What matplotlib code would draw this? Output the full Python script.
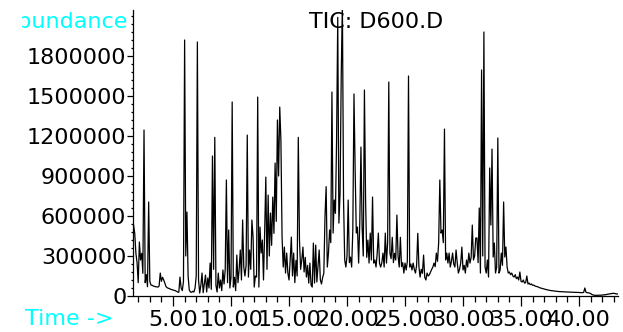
import numpy as np
import matplotlib.pyplot as plt
from matplotlib.ticker import MultipleLocator, FixedLocator
from matplotlib.transforms import Bbox, TransformedBbox

# retention time grid (min), one scan every 0.1 min
rt = np.round(np.arange(1.6, 43.45, 0.1), 1)

# total ion current, thousands of counts, one row per minute
tic_k = [
    530, 470, 320, 250,
    100, 405, 270, 320, 170, 1245, 100, 160, 70, 705,
    110, 82, 80, 75, 72, 70, 68, 67, 75, 172,
    110, 140, 120, 95, 70, 62, 58, 55, 50, 48,
    45, 42, 40, 35, 30, 28, 142, 60, 40, 110,
    1920, 300, 630, 150, 45, 30, 28, 35, 30, 60,
    150, 1905, 120, 22, 80, 172, 25, 90, 157, 30,
    135, 60, 247, 50, 1050, 200, 1190, 80, 30, 172,
    60, 120, 40, 195, 90, 200, 870, 100, 495, 60,
    140, 1455, 67, 140, 40, 307, 100, 200, 345, 120,
    570, 217, 150, 230, 1207, 142, 345, 200, 570, 442,
    67, 150, 142, 1492, 67, 517, 322, 420, 120, 480,
    892, 200, 757, 300, 622, 380, 742, 470, 997, 560,
    1320, 900, 1417, 1170, 442, 217, 367, 172, 322, 172,
    120, 270, 442, 150, 322, 100, 267, 150, 1190, 420,
    200, 270, 367, 180, 290, 142, 230, 97, 247, 82,
    67, 397, 97, 382, 105, 230, 345, 120, 90, 140,
    170, 592, 820, 217, 322, 495, 400, 1530, 472, 720,
    620, 1170, 2090, 547, 772, 1650, 2200, 720, 270, 217,
    300, 720, 250, 292, 217, 495, 1515, 945, 472, 517,
    247, 547, 1117, 517, 300, 1545, 720, 290, 420, 247,
    472, 270, 742, 247, 270, 217, 320, 472, 247, 217,
    250, 322, 217, 472, 247, 400, 1605, 320, 280, 440,
    250, 320, 270, 607, 300, 217, 440, 220, 250, 172,
    247, 195, 260, 1650, 217, 240, 195, 247, 200, 172,
    230, 470, 217, 142, 200, 170, 307, 140, 120, 172,
    150, 160, 180, 200, 217, 247, 220, 322, 260, 400,
    870, 472, 495, 400, 1252, 270, 322, 247, 322, 217,
    260, 322, 240, 217, 345, 250, 172, 200, 247, 367,
    195, 230, 172, 270, 217, 322, 247, 290, 532, 270,
    300, 435, 435, 250, 660, 172, 1695, 300, 1980, 217,
    172, 270, 142, 960, 532, 1102, 292, 397, 172, 217,
    1185, 172, 195, 322, 230, 705, 292, 367, 217, 172,
    180, 160, 172, 150, 142, 160, 130, 142, 120, 180,
    110, 105, 120, 97, 100, 150, 90, 97, 85, 90,
    80, 82, 75, 72, 70, 67, 62, 60, 57, 55,
    52, 50, 48, 45, 44, 42, 40, 40, 38, 37,
    36, 35, 34, 33, 33, 32, 32, 31, 31, 30,
    30, 30, 29, 29, 28, 28, 28, 27, 27, 27,
    26, 26, 25, 25, 27, 60, 28, 25, 24, 22,
    18, 12, 8, 6, 5, 5, 5, 6, 6, 6,
    7, 8, 9, 10, 12, 14, 15, 17, 18, 20,
    20, 18, 16, 15, 15,
]
abundance = np.array(tic_k) * 1000

x_ticks = [5, 10, 15, 20, 25, 30, 35, 40]
x_labels = ['5.00', '10.00', '15.00', '20.00', '25.00', '30.00', '35.00', '40.00']
y_ticks = [0, 300000, 600000, 900000, 1200000, 1500000, 1800000]

W, H = 623, 332
fig = plt.figure(figsize=(W / 100, H / 100), dpi=100)
ax = fig.add_axes([133 / W, 36 / H, 485 / W, 286 / H])

ax.plot(rt, abundance, color='black', lw=0.9)

ax.set_xlim(1.55, 43.36)
ax.set_ylim(0, 2145000)
ax.xaxis.set_major_locator(FixedLocator(x_ticks))
ax.set_xticklabels(x_labels)
ax.xaxis.set_minor_locator(MultipleLocator(1))
ax.yaxis.set_major_locator(FixedLocator(y_ticks))
ax.set_yticklabels([str(v) for v in y_ticks])
ax.yaxis.set_minor_locator(MultipleLocator(60000))

for s in ['top', 'right']:
    ax.spines[s].set_visible(False)
for s in ['left', 'bottom']:
    ax.spines[s].set_linewidth(0.9)

ax.tick_params(axis='x', which='major', length=7, width=0.9, pad=3, labelsize=16)
ax.tick_params(axis='x', which='minor', length=4.3, width=0.9)
ax.tick_params(axis='y', which='major', length=4, width=0.9, pad=0.8, labelsize=16)
ax.tick_params(axis='y', which='minor', length=1.8, width=0.9)

fig.text(376 / W, 1 - 22 / H, 'TIC: D600.D', fontsize=16, ha='center', va='center')
fig.text(25 / W, 1 - 319 / H, 'Time ->', fontsize=16, color='#00ffff',
         ha='left', va='center')
ab = fig.text(128 / W, 1 - 22 / H, 'Abundance', fontsize=16, color='#00ffff',
              ha='right', va='center')
ab.set_clip_box(TransformedBbox(Bbox([[22 / W, 0], [1, 1]]), fig.transFigure))
ab.set_clip_on(True)

fig.savefig('out.png', dpi=100)
